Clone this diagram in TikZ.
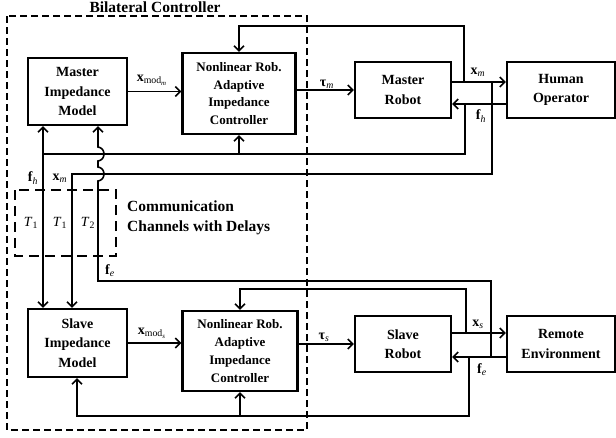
\documentclass[tikz,border=0pt]{standalone}
\usepackage{fontspec}
\setmainfont{Liberation Serif}
\usetikzlibrary{arrows.meta,calc}
\newcommand{\bv}[2]{\textbf{#1}\textsubscript{\normalfont #2}}
\begin{document}
\begin{tikzpicture}[x=1pt,y=-1pt,
  blk/.style={draw,line width=2.2pt,align=center,inner sep=0pt,
    font=\fontsize{14}{19.5}\selectfont\bfseries},
  nlblk/.style={blk,font=\fontsize{13}{17.7}\selectfont\bfseries},
  wire/.style={line width=1.6pt},
  arr/.style={wire,-{Straight Barb[length=5pt,width=10pt,line width=1.6pt]}},
  lab/.style={font=\fontsize{14}{16}\selectfont,inner sep=0pt},
  outerdash/.style={line width=2.3pt,dash pattern=on 7pt off 4pt},
  chandash/.style={line width=2.3pt,dash pattern=on 10pt off 6pt}]
\useasboundingbox (0,0) rectangle (616,437);

% dashed frames
\draw[outerdash] (7,16) rectangle (307,430);
\draw[chandash] (15,190) rectangle (116,256);
\node[font=\fontsize{15.5}{18}\selectfont\bfseries,inner sep=0pt,anchor=base] (title) at (155,12) {Bilateral Controller};
\node[font=\fontsize{15.5}{20}\selectfont\bfseries,align=left,anchor=west,inner sep=0pt] (comm) at (127,218)
  {Communication\\Channels with Delays};

% blocks
\node[blk,minimum width=99pt,minimum height=67pt] (MIM) at (77.5,91.5) {Master\\Impedance\\Model};
\node[nlblk,minimum width=113pt,minimum height=81pt] (MNL) at (239,93.5) {Nonlinear Rob.\\Adaptive\\Impedance\\Controller};
\node[blk,minimum width=96pt,minimum height=56pt] (MR) at (403,90) {Master\\Robot};
\node[blk,minimum width=108pt,minimum height=56pt] (HO) at (561,90) {Human\\Operator};
\node[blk,minimum width=99pt,minimum height=68pt] (SIM) at (77.5,343) {Slave\\Impedance\\Model};
\node[nlblk,minimum width=115pt,minimum height=80pt] (SNL) at (240,351) {Nonlinear Rob.\\Adaptive\\Impedance\\Controller};
\node[blk,minimum width=96pt,minimum height=56pt] (SR) at (403,344) {Slave\\Robot};
\node[blk,minimum width=108pt,minimum height=56pt] (RE) at (561,344) {Remote\\Environment};

% master side signals
\draw[arr] (MIM.east) -- (MIM.east -| MNL.west);
\draw[arr] (MNL.east |- MR) -- (MR.west);
\coordinate (xmR) at ([yshift=8pt]MR.east);
\coordinate (fhR) at ([yshift=-14pt]MR.east);
\draw[arr] (xmR) -- (xmR -| HO.west);
\draw[arr] (fhR -| HO.west) -- (fhR);

\coordinate (bxm1) at (464,82);
\coordinate (bxm2) at (492,82);
\coordinate (bfh) at (465,104);
\coordinate (fhl) at (43,154);
\coordinate (xml) at (72,174);

\draw[arr] (bxm1) -- (464,26) -| (MNL.north);
\draw[wire] (bfh) |- (fhl);
\draw[arr] (fhl) -- (fhl |- MIM.south);
\draw[arr] (fhl) -- (fhl |- SIM.north);
\draw[arr] (MNL.south |- fhl) -- (MNL.south);
\draw[arr] (bxm2) |- (xml) -- (xml |- SIM.north);

% slave side signals
\draw[arr] (SIM.east) -- (SIM.east -| SNL.west);
\draw[arr] (SNL.east |- SR) -- (SR.west);
\coordinate (xsR) at ([yshift=11pt]SR.east);
\coordinate (feR) at ([yshift=-13pt]SR.east);
\draw[arr] (xsR) -- (xsR -| RE.west);
\draw[arr] (feR -| RE.west) -- (feR);

\coordinate (bxs) at (466,333);
\coordinate (bfe1) at (491,357);
\coordinate (bfe2) at (469,357);
\coordinate (fel) at (98,281);
\coordinate (sbl) at (77,416);

\draw[arr] (bxs) -- (466,289) -| (SNL.north);
\draw[arr] (bfe2) |- (sbl) -- (sbl |- SIM.south);
\draw[arr] (SNL.south |- sbl) -- (SNL.south);

% f_e back to the master model, hopping over two wires
\draw[arr] (bfe1) |- (fel) -- (98,181)
  .. controls (106,180) and (106,168) .. (98,167) -- (98,161)
  .. controls (106,160) and (106,148) .. (98,147) -- (MIM.south -| fel);

% labels
\node[lab] (lxmodm) at (152,80) {\bv{x}{mod\textsubscript{\textit{m}}}};
\node[lab] (ltaum) at (327,84) {\bv{τ}{\textit{m}}};
\node[lab] (lxm) at (478,72) {\bv{x}{\textit{m}}};
\node[lab] (lfh) at (481,116) {\bv{f}{\textit{h}}};
\node[lab] (lxmods) at (152,333) {\bv{x}{mod\textsubscript{\textit{s}}}};
\node[lab] (ltaus) at (324,337) {\bv{τ}{\textit{s}}};
\node[lab] (lxs) at (478,324) {\bv{x}{\textit{s}}};
\node[lab] (lfe) at (482,370) {\bv{f}{\textit{e}}};
\node[lab] (lfhl) at (33,178) {\bv{f}{\textit{h}}};
\node[lab] (lxml) at (60,178) {\bv{x}{\textit{m}}};
\node[lab] (lfel) at (110,271) {\bv{f}{\textit{e}}};
\node[lab] (t1a) at (31,223) {\textit{T}\textsubscript{1}};
\node[lab] (t1b) at (60,223) {\textit{T}\textsubscript{1}};
\node[lab] (t2) at (88,223) {\textit{T}\textsubscript{2}};
\end{tikzpicture}
\end{document}
